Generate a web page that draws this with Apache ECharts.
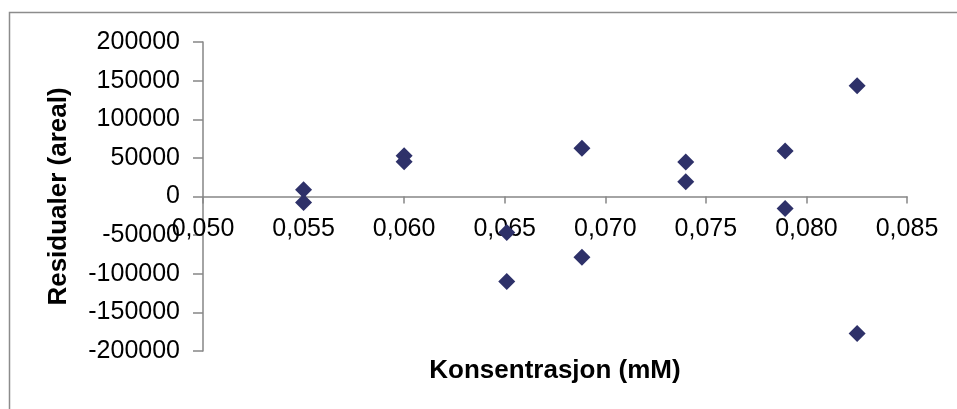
<!DOCTYPE html>
<html>
<head>
<meta charset="utf-8">
<script src="https://cdn.jsdelivr.net/npm/echarts@6/dist/echarts.min.js"></script>
<style>
html,body{margin:0;padding:0;background:#fff;}
#chart{width:957px;height:409px;}
</style>
</head>
<body>
<div id="chart"></div>
<script>
// Data
var xValues = [0.0550, 0.0550, 0.0600, 0.0600, 0.0651, 0.0651, 0.06884, 0.06884, 0.0740, 0.0740, 0.07894, 0.07894, 0.08252, 0.08252];
var yValues = [8700, -7800, 52800, 45000, -46700, -110000, 62300, -78800, 44500, 19100, 58800, -15600, 143300, -177500];
var xTitle = 'Konsentrasjon (mM)';
var yTitle = 'Residualer (areal)';

var points = xValues.map(function (x, i) { return [x, yValues[i]]; });
var font = '"Liberation Sans", Arial, sans-serif';
var axisGray = '#868686';

var chart = echarts.init(document.getElementById('chart'), null, {renderer: 'canvas'});
chart.setOption({
  animation: false,
  backgroundColor: '#ffffff',
  graphic: [{
    type: 'rect',
    shape: {x: 9.5, y: 12.5, width: 1000, height: 500},
    style: {fill: 'none', stroke: '#8c8c8c', lineWidth: 1.5},
    silent: true
  }],
  grid: {left: 203, right: 50, top: 42, bottom: 58, containLabel: false, outerBoundsMode: 'none'},
  xAxis: {
    type: 'value',
    min: 0.050, max: 0.085, interval: 0.005,
    name: xTitle,
    nameLocation: 'middle',
    nameGap: 7,
    nameMoveOverlap: false,
    nameTextStyle: {fontFamily: font, fontSize: 26, fontWeight: 'bold', color: '#000'},
    axisLine: {show: true, onZero: true, lineStyle: {color: axisGray, width: 1.5}},
    axisTick: {show: true, inside: false, length: 7, lineStyle: {color: axisGray, width: 1.5}},
    axisLabel: {
      fontFamily: font, fontSize: 25, color: '#000', margin: -134,
      formatter: function (v) { return v.toFixed(3).replace('.', ','); }
    },
    splitLine: {show: false}
  },
  yAxis: {
    type: 'value',
    min: -200000, max: 200000, interval: 50000,
    name: yTitle,
    nameLocation: 'middle',
    nameGap: 131,
    nameTextStyle: {fontFamily: font, fontSize: 26, fontWeight: 'bold', color: '#000'},
    axisLine: {show: true, onZero: false, lineStyle: {color: axisGray, width: 1.5}},
    axisTick: {show: true, inside: false, length: 10, lineStyle: {color: axisGray, width: 1.5}},
    axisLabel: {fontFamily: font, fontSize: 25, color: '#000', margin: 23,
      formatter: function (v) { return String(v); }},
    splitLine: {show: false}
  },
  series: [{
    type: 'scatter',
    data: points,
    symbol: 'diamond',
    symbolSize: [17, 17],
    itemStyle: {color: '#2E3169', opacity: 1}
  }]
});
</script>
</body>
</html>
